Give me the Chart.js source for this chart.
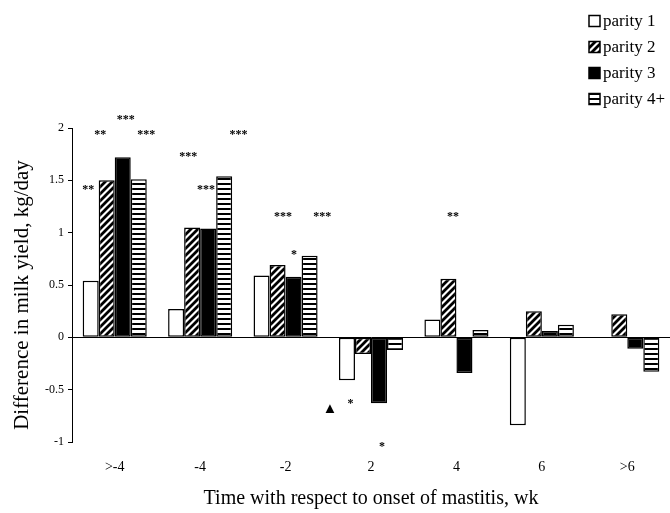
<!DOCTYPE html>
<html>
<head>
<meta charset="utf-8">
<script src="https://cdn.jsdelivr.net/npm/chart.js@4.4.1/dist/chart.umd.min.js"></script>
<style>
	html, body { margin: 0; padding: 0; background: #fff; }
	#wrap { width: 670px; height: 513px; }
</style>
</head>
<body>
<div id="wrap"><canvas id="grafico"></canvas></div>
<script>
const semanas = [">-4", "-4", "-2", "2", "4", "6", ">6"]
const parity1 = [0.54, 0.27, 0.59, -0.41, 0.17, -0.84, 0]
const parity2 = [1.50, 1.05, 0.69, -0.16, 0.56, 0.25, 0.22]
const parity3 = [1.72, 1.04, 0.58, -0.63, -0.34, 0.06, -0.11]
const parity4 = [1.51, 1.54, 0.78, -0.12, 0.07, 0.12, -0.33]

// significance marks: text, position on the category axis, y value
const marcas = ["**", "**", "***", "***", "***", "***", "***", "***", "*", "***", "**", "\u25B2", "*", "*"]
const marcasX = [-0.31, -0.17, 0.13, 0.37, 0.86, 1.07, 1.45, 1.97, 2.10, 2.43, 3.96, 2.52, 2.76, 3.13]
const marcasY = [1.43, 1.95, 2.10, 1.95, 1.74, 1.43, 1.95, 1.17, 0.81, 1.17, 1.17, -0.67, -0.62, -1.03]

const tituloY = 'Difference in milk yield, kg/day'
const tituloX = 'Time with respect to onset of mastitis, wk'

const serif = "'Liberation Serif', 'Times New Roman', serif"

const rayado = () => {
	const c = document.createElement('canvas')
	c.width = 7
	c.height = 7
	const g = c.getContext('2d')
	g.fillStyle = '#fff'
	g.fillRect(0, 0, 7, 7)
	g.strokeStyle = '#000'
	g.lineWidth = 2.8
	g.beginPath()
	g.moveTo(-1, 8); g.lineTo(8, -1)
	g.moveTo(-4, 4); g.lineTo(4, -4)
	g.moveTo(3, 11); g.lineTo(11, 3)
	g.stroke()
	return g.createPattern(c, 'repeat')
}

const horizontal = () => {
	const c = document.createElement('canvas')
	c.width = 4
	c.height = 5
	const g = c.getContext('2d')
	g.fillStyle = '#fff'
	g.fillRect(0, 0, 4, 5)
	g.fillStyle = '#000'
	g.fillRect(0, 3, 4, 2)
	return g.createPattern(c, 'repeat')
}

const marcasPlugin = {
	id: 'marcas',
	afterDatasetsDraw(chart) {
		const ctx = chart.ctx
		const x = chart.scales.x
		const y = chart.scales.y
		ctx.save()
		ctx.fillStyle = '#000'
		ctx.textAlign = 'center'
		ctx.textBaseline = 'middle'
		for (let i = 0; i < marcas.length; i++) {
			ctx.font = marcas[i] === "\u25B2" ? "15px " + serif : "bold 12px " + serif
			ctx.fillText(marcas[i], x.getPixelForValue(marcasX[i]), y.getPixelForValue(marcasY[i]) + 2)
		}
		// y title
		ctx.translate(22, (chart.chartArea.top + chart.chartArea.bottom) / 2 + 10)
		ctx.rotate(-Math.PI / 2)
		ctx.font = "21px " + serif
		ctx.fillText(tituloY, 0, 0)
		ctx.restore()
	}
}

const leyendaPlugin = {
	id: 'leyenda',
	afterDraw(chart) {
		const ctx = chart.ctx
		ctx.save()
		ctx.font = "17px " + serif
		ctx.textBaseline = 'middle'
		chart.data.datasets.forEach((ds, i) => {
			const yy = 21 + i * 26
			ctx.fillStyle = ds.backgroundColor
			ctx.fillRect(589, yy - 5.5, 11, 11)
			ctx.strokeStyle = '#000'
			ctx.lineWidth = 1.5
			ctx.strokeRect(589, yy - 5.5, 11, 11)
			ctx.fillStyle = '#000'
			ctx.fillText(ds.label, 603, yy + 1)
		})
		ctx.restore()
	}
}

const grafico = () => {
	const data = {
		labels: semanas,
		datasets: [
			{ label: 'parity 1', data: parity1, backgroundColor: '#fff' },
			{ label: 'parity 2', data: parity2, backgroundColor: rayado() },
			{ label: 'parity 3', data: parity3, backgroundColor: '#000' },
			{ label: 'parity 4+', data: parity4, backgroundColor: horizontal() }
		].map(d => Object.assign(d, { borderColor: '#000', borderWidth: 1.5, borderSkipped: false }))
	}

	const ctx = document.getElementById('grafico').getContext('2d')

	const chart = new Chart(ctx, {
		type: 'bar',
		data: data,
		plugins: [marcasPlugin, leyendaPlugin],
		options: {
			responsive: true,
			maintainAspectRatio: false,
			animation: false,
			layout: { padding: { top: 128, right: 0, left: 0, bottom: 0 } },
			plugins: { legend: { display: false }, tooltip: { enabled: false } },
			datasets: { bar: { categoryPercentage: 0.75, barPercentage: 1.0 } },
			scales: {
				x: {
					grid: { display: false, drawTicks: false },
					border: { display: false },
					ticks: { color: '#000', font: { family: serif, size: 14 }, padding: 17 },
					title: { display: true, text: tituloX, color: '#000', font: { family: serif, size: 20 }, padding: { top: 0, bottom: 2 } },
					afterFit: s => { s.height = 71 }
				},
				y: {
					min: -1,
					max: 2,
					ticks: { stepSize: 0.5, color: '#000', font: { family: serif, size: 12 }, padding: 4, callback: v => `${v}` },
					grid: {
						color: c => c.tick && c.tick.value === 0 ? '#000' : 'rgba(0,0,0,0)',
						tickColor: '#000',
						tickLength: 4,
						lineWidth: 1
					},
					border: { display: true, color: '#000', width: 1 },
					afterFit: s => { s.width = 72 }
				}
			}
		}
	})
}

window.addEventListener('load', grafico)
</script>
</body>
</html>
